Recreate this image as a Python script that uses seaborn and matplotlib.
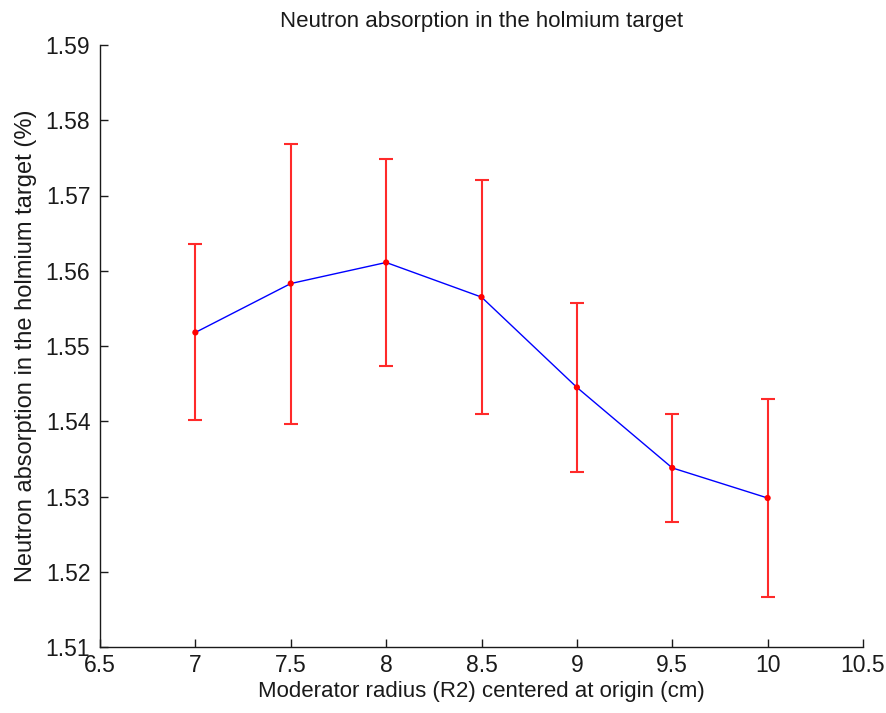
import numpy as np
import pandas as pd
import matplotlib
matplotlib.use("Agg")
import matplotlib.pyplot as plt
import seaborn as sns

radius = [7.0, 7.5, 8.0, 8.5, 9.0, 9.5, 10.0]
absorption = [1.5518, 1.5583, 1.5611, 1.5565, 1.5445, 1.5338, 1.5298]
err = [0.0117, 0.0186, 0.0138, 0.0155, 0.0112, 0.0072, 0.0132]
xticks = [6.5, 7, 7.5, 8, 8.5, 9, 9.5, 10, 10.5]
xtick_labels = ["6.5", "7", "7.5", "8", "8.5", "9", "9.5", "10", "10.5"]
yticks = [1.51, 1.52, 1.53, 1.54, 1.55, 1.56, 1.57, 1.58, 1.59]
ytick_labels = ["1.51", "1.52", "1.53", "1.54", "1.55", "1.56", "1.57", "1.58", "1.59"]

df = pd.DataFrame({"radius": radius, "absorption": absorption, "err": err})

sns.set_theme(style="ticks", rc={"xtick.direction": "in", "ytick.direction": "in"})
plt.rcParams["font.family"] = ["Liberation Sans", "DejaVu Sans"]
plt.rcParams["xtick.direction"] = "in"
plt.rcParams["ytick.direction"] = "in"

fig = plt.figure(figsize=(8.87, 7.13), dpi=100)
ax = fig.add_axes([100 / 887, 1 - 647 / 713, 763 / 887, 602 / 713])

sns.lineplot(data=df, x="radius", y="absorption", ax=ax, color="#0000ff",
             linewidth=1.0, zorder=2)
ax.errorbar(df["radius"], df["absorption"], yerr=df["err"], fmt="none",
            ecolor="#ff2a2a", elinewidth=1.5, capsize=5, capthick=1.5, zorder=3)
sns.scatterplot(data=df, x="radius", y="absorption", ax=ax, color="#ff0000",
                s=20, edgecolor="none", zorder=4)

ax.set_xlim(6.5, 10.5)
ax.set_ylim(1.51, 1.59)
ax.set_xticks(xticks)
ax.set_xticklabels(xtick_labels)
ax.set_yticks(yticks)
ax.set_yticklabels(ytick_labels)
ax.tick_params(axis="both", direction="in", length=6, width=1, labelsize=16.5,
               colors="#1a1a1a")
ax.tick_params(axis="x", pad=5)
ax.tick_params(axis="y", pad=7)
for side in ["top", "right"]:
    ax.spines[side].set_visible(False)
for side in ["left", "bottom"]:
    ax.spines[side].set_color("#1a1a1a")
    ax.spines[side].set_linewidth(1.0)

ax.set_xlabel("Moderator radius (R2) centered at origin (cm)", fontsize=16,
              color="#1a1a1a", labelpad=3)
ax.set_ylabel("Neutron absorption in the holmium target (%)", fontsize=17,
              color="#1a1a1a", labelpad=6)
ax.set_title("Neutron absorption in the holmium target", fontsize=16,
             color="#1a1a1a", pad=13)

fig.savefig("out.png", dpi=100, facecolor="white")
